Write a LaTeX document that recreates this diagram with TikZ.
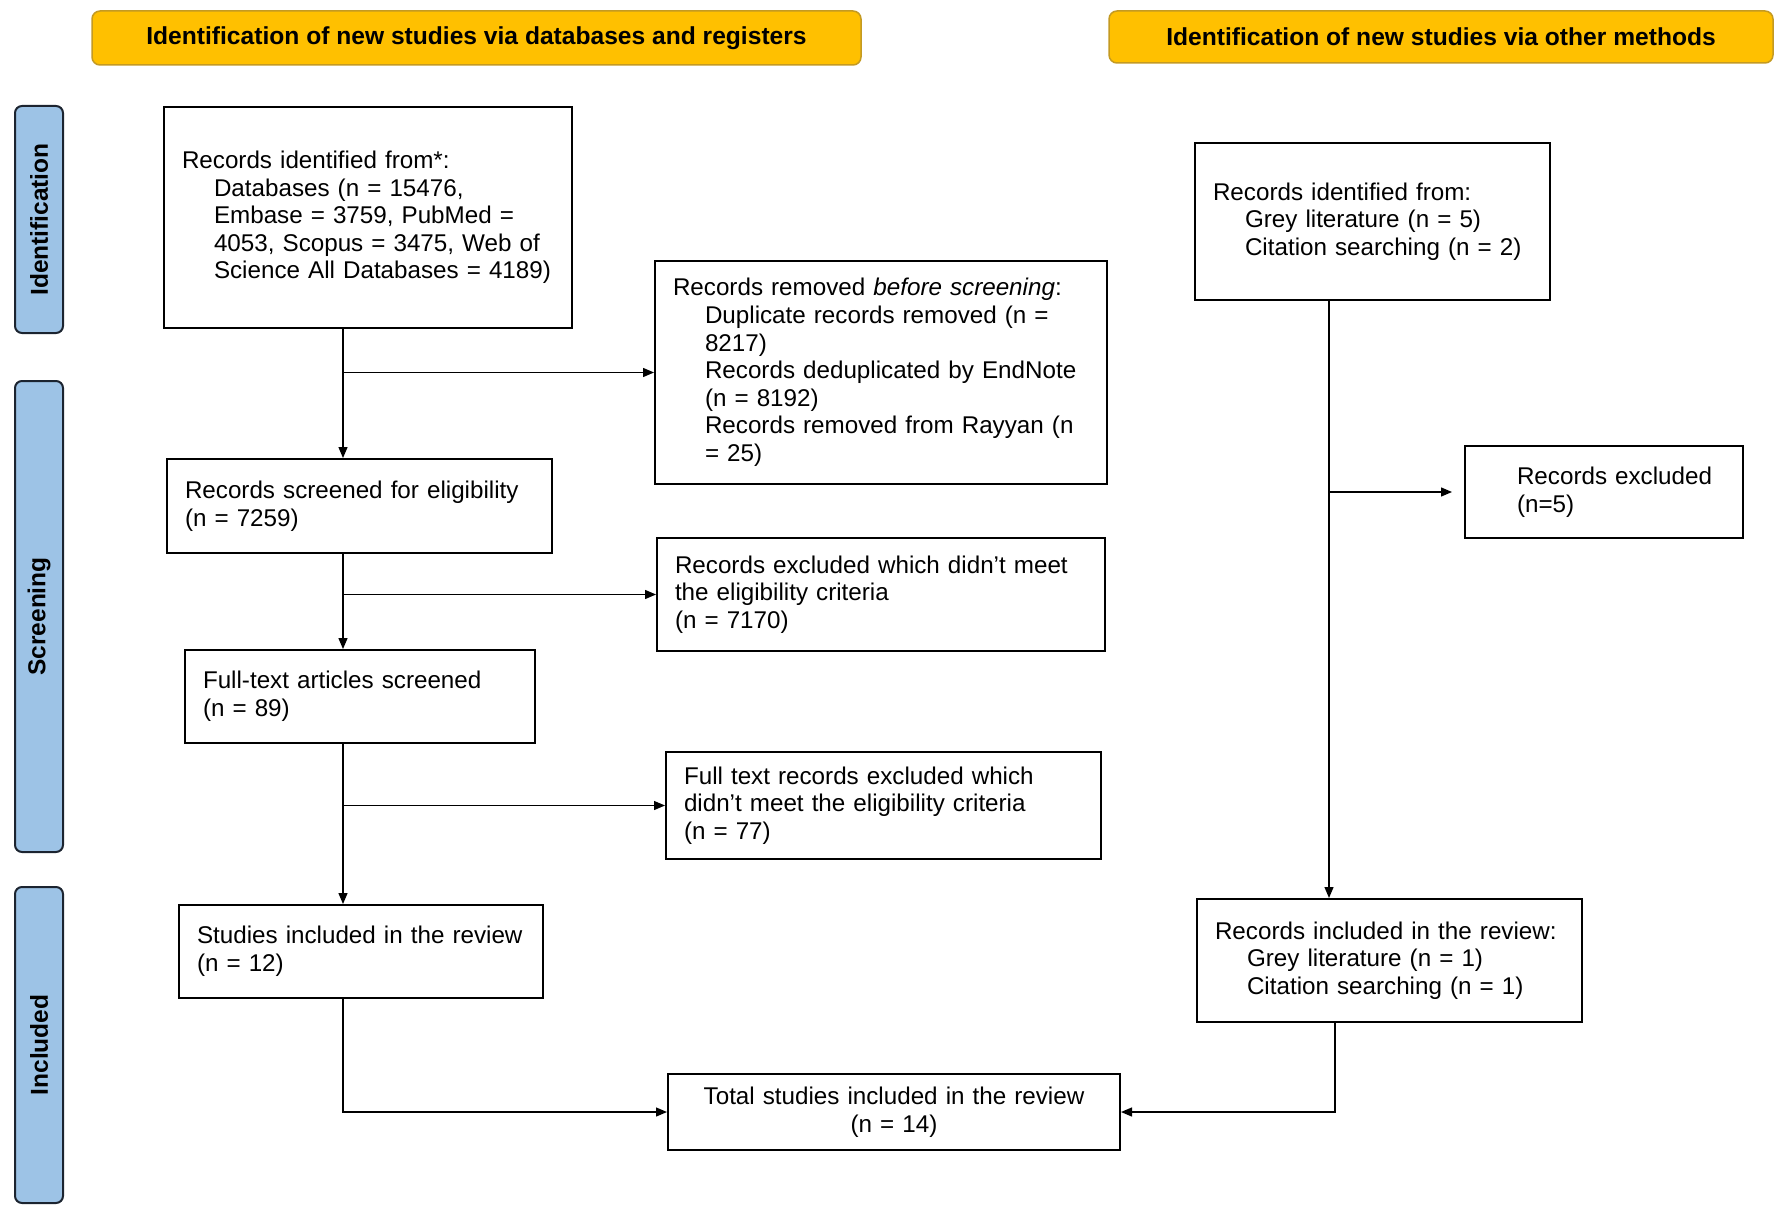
\documentclass[tikz,border=0pt]{standalone}
\usepackage{fontspec}
\setmainfont{Liberation Sans}
\usetikzlibrary{arrows.meta}
\definecolor{headgold}{HTML}{FFC000}
\definecolor{headrim}{HTML}{C49A22}
\definecolor{phaseblue}{HTML}{9DC3E6}
\definecolor{phaserim}{HTML}{1C2430}
\newcommand{\subind}{\hspace*{32pt}}
\tikzstyle{heading} = [
    rectangle,
    rounded corners=8pt,
    fill=headgold,
    draw=headrim,
    line width=1.5pt,
    font=\bfseries\fontsize{24.6}{28}\selectfont
]
\tikzstyle{phase} = [
    rectangle,
    rounded corners=7pt,
    rotate=90,
    minimum height=48pt,
    fill=phaseblue,
    draw=phaserim,
    line width=2pt,
    font=\bfseries\fontsize{24.5}{28}\selectfont
]
\tikzstyle{process} = [
    rectangle,
    draw=black,
    line width=2pt,
    inner xsep=18pt,
    align=left,
    font=\fontsize{24.2}{27.6}\selectfont
]
\tikzstyle{arrow} = [line width=1.3pt,-{Triangle[length=11pt,width=9pt]}]

\begin{document}
\begin{tikzpicture}[x=1pt,y=-1pt]
\useasboundingbox (0,0) rectangle (1784,1209);

% headings
\node (headdb) [heading, minimum width=769pt, minimum height=54pt] at (476.5,38)
{\raisebox{-2pt}{Identification of new studies via databases and registers}};
\node (headother) [heading, minimum width=664pt, minimum height=52pt] at (1441,37)
{\raisebox{-2pt}{Identification of new studies via other methods}};

% phases
\node (phaseid) [phase, minimum width=227pt] at (39,219.5) {Identification};
\node (phasescr) [phase, minimum width=471pt] at (39,616.5) {Screening};
\node (phaseinc) [phase, minimum width=316pt] at (39,1045) {Included};

% databases and registers
\node (ident) [process, text width=372pt, minimum height=221pt] at (368,217.5)
{Records identified from*:\\ \subind Databases (n = 15476,\\ \subind Embase = 3759, PubMed =\\ \subind 4053, Scopus = 3475, Web of\\ \subind Science All Databases = 4189)};

\node (removed) [process, text width=416pt, minimum height=223pt] at (881,372.5)
{Records removed \textit{before screening}:\\ \subind Duplicate records removed (n =\\ \subind 8217)\\ \subind Records deduplicated by EndNote\\ \subind (n = 8192)\\ \subind Records removed from Rayyan (n\\ \subind = 25)};

\node (screened) [process, text width=349pt, minimum height=94pt] at (359.5,506)
{Records screened for eligibility\\(n = 7259)};

\node (excluded) [process, text width=412pt, minimum height=113pt] at (881,594.5)
{Records excluded which didn’t meet\\the eligibility criteria\\(n = 7170)};

\node (fulltext) [process, text width=314pt, minimum height=93pt] at (360,696.5)
{Full-text articles screened\\(n = 89)};

\node (ftexcl) [process, text width=399pt, minimum height=107pt] at (883.5,805.5)
{Full text records excluded which\\didn’t meet the eligibility criteria\\(n = 77)};

\node (studies) [process, text width=328pt, minimum height=93pt] at (361,951.5)
{Studies included in the review\\(n = 12)};

\node (total) [process, align=center, text width=416pt, minimum height=76pt] at (894,1112)
{Total studies included in the review\\(n = 14)};

% other methods
\node (otherid) [process, text width=319pt, minimum height=157pt] at (1372.5,221.5)
{Records identified from:\\ \subind Grey literature (n = 5)\\ \subind Citation searching (n = 2)};

\node (otherexcl) [process, inner xsep=12pt, text width=254pt, minimum height=92pt] at (1604,492)
{\hspace*{40pt}Records excluded\\ \hspace*{40pt}(n=5)};

\node (otherinc) [process, text width=349pt, minimum height=123pt] at (1389.5,960.5)
{Records included in the review:\\ \subind Grey literature (n = 1)\\ \subind Citation searching (n = 1)};

% spines
\coordinate (spinedb) at (343,0);
\coordinate (spineother) at (1329,0);
\coordinate (spineinc) at (1335,0);

\draw [arrow] (ident.south -| spinedb) -- (screened.north -| spinedb);
\draw [arrow] (spinedb |- removed.west) -- (removed.west);
\draw [arrow] (screened.south -| spinedb) -- (fulltext.north -| spinedb);
\draw [arrow] (spinedb |- excluded.west) -- (excluded.west);
\draw [arrow] (fulltext.south -| spinedb) -- (studies.north -| spinedb);
\draw [arrow] (spinedb |- ftexcl.west) -- (ftexcl.west);
\draw [arrow] (studies.south -| spinedb) |- (total.west);

\draw [arrow] (otherid.south -| spineother) -- (otherinc.north -| spineother);
\draw [arrow, shorten >=12pt] (spineother |- otherexcl.west) -- (otherexcl.west);
\draw [arrow] (otherinc.south -| spineinc) |- (total.east);

\end{tikzpicture}
\end{document}
